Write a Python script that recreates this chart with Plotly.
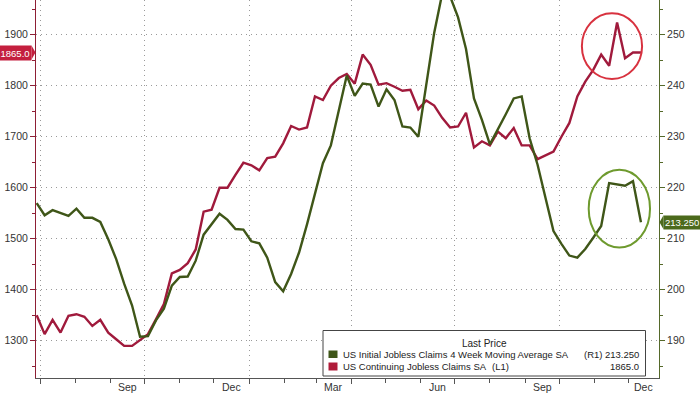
import pandas as pd
import plotly.graph_objects as go

# ---------------- data ----------------
first_week = "2022-06-28"
n_weeks = 77
dates = pd.date_range(first_week, periods=n_weeks, freq="7D")

initial_claims_4wk = [
    217.0, 214.6, 215.6, 215.0, 214.5, 215.9, 214.1, 214.1, 213.3, 209.9,
    206.0, 201.2, 196.9, 190.8, 190.9, 194.0, 196.3, 200.8, 202.5, 202.6,
    205.7, 210.8, 212.8, 214.9, 213.7, 211.9, 211.8, 209.5, 209.1, 206.3,
    201.5, 199.7, 203.1, 207.3, 212.8, 218.7, 224.8, 228.3, 235.2, 242.0,
    238.0, 240.4, 240.2, 235.9, 239.3, 237.2, 232.0, 231.8, 230.0, 240.1,
    250.4, 258.0, 257.5, 253.4, 247.2, 237.5, 233.3, 228.5, 231.3, 234.4,
    237.5, 237.9, 229.7, 224.5, 218.0, 211.5, 209.0, 206.7, 206.3, 208.0,
    210.2, 212.5, 220.9, 220.7, 220.4, 221.3, 213.25,
]
continuing_claims = [
    1350, 1313, 1341, 1316, 1349, 1352, 1347, 1329, 1341, 1316,
    1303, 1290, 1290, 1301, 1313, 1342, 1372, 1432, 1439, 1452,
    1479, 1553, 1557, 1600, 1600, 1625, 1649, 1644, 1634, 1658,
    1661, 1687, 1721, 1714, 1718, 1779, 1772, 1800, 1815, 1823,
    1804, 1861, 1841, 1802, 1805, 1798, 1790, 1792, 1754, 1771,
    1761, 1737, 1718, 1720, 1747, 1679, 1691, 1683, 1710, 1697,
    1717, 1683, 1683, 1656, 1664, 1671, 1700, 1727, 1779, 1808,
    1831, 1861, 1839, 1924, 1854, 1865, 1865.0,
]
left_ticks = [1300, 1400, 1500, 1600, 1700, 1800, 1900]
right_ticks = [190, 200, 210, 220, 230, 240, 250]
month_labels = ["Sep", "Dec", "Mar", "Jun", "Sep", "Dec"]
label_months = ["2022-09", "2022-12", "2023-03", "2023-06", "2023-09", "2023-12"]

name_initial = "US Initial Jobless Claims 4 Week Moving Average SA"
name_cont = "US Continuing Jobless Claims SA"
last_initial = "213.250"
last_cont = "1865.0"

# ---------------- geometry / style ----------------
W, H = 700, 394
ML, MR, MT, MB = 36, 41, 0, 16
PW, PH = W - ML - MR, H - MT - MB

def px(x):
    return (x - ML) / PW

def py(y):
    return (H - MB - y) / PH

RED = "#a01a3c"
GREEN = "#3f5618"
RED_AX = "#8e1f35"
GREEN_AX = "#55692a"
TAG_RED = "#c41f3e"
TAG_GREEN = "#4c6a1c"
FONT = "Liberation Sans, Arial"
TXT = "#333333"

x_start = dates[0] - pd.Timedelta(days=0.6)
x_end = dates[-1] + pd.Timedelta(days=15.9)

fig = go.Figure()
fig.add_trace(go.Scatter(x=dates, y=initial_claims_4wk, mode="lines",
                         line=dict(color=GREEN, width=2.4), yaxis="y2",
                         name=name_initial, hoverinfo="skip"))
fig.add_trace(go.Scatter(x=dates, y=continuing_claims, mode="lines",
                         line=dict(color=RED, width=2.4), yaxis="y",
                         name=name_cont, hoverinfo="skip"))

month_starts = pd.date_range("2022-07-01", "2023-12-01", freq="MS")
quarter_starts = [d for d in month_starts if d.month in (1, 4, 7, 10) and d > x_start]

annotations = []
for lab, m in zip(month_labels, label_months):
    ms = pd.Timestamp(m + "-01")
    me = ms + pd.offsets.MonthBegin(1)
    a = max(ms, x_start)
    b = min(me, x_end)
    mid = a + (b - a) / 2
    annotations.append(dict(x=mid, xref="x", y=0, yref="paper", yanchor="top",
                            yshift=-1, text=lab, showarrow=False,
                            font=dict(family=FONT, size=10.5, color=TXT)))

# last value tags
annotations.append(dict(x=0, xref="paper", xanchor="right", xshift=-4,
                        y=continuing_claims[-1], yref="y", text=last_cont,
                        showarrow=False, bgcolor=TAG_RED, borderpad=1.5,
                        font=dict(family=FONT, size=9.5, color="white")))
annotations.append(dict(x=1, xref="paper", xanchor="left", xshift=4,
                        y=initial_claims_4wk[-1], yref="y2", text=last_initial,
                        showarrow=False, bgcolor=TAG_GREEN, borderpad=1,
                        font=dict(family=FONT, size=9.5, color="white")))

# legend box content
lf = dict(family=FONT, size=9.5, color="#222222")
annotations += [
    dict(x=px(484), y=py(343), xref="paper", yref="paper", text="Last Price",
         showarrow=False, xanchor="center", yanchor="middle",
         font=dict(family=FONT, size=10, color="#222222")),
    dict(x=px(340.5), y=py(354.5), xref="paper", yref="paper", text=name_initial,
         showarrow=False, xanchor="left", yanchor="middle", font=lf),
    dict(x=px(582), y=py(354.5), xref="paper", yref="paper", text="(R1)",
         showarrow=False, xanchor="left", yanchor="middle", font=lf),
    dict(x=px(641), y=py(354.5), xref="paper", yref="paper", text=last_initial,
         showarrow=False, xanchor="right", yanchor="middle", font=lf),
    dict(x=px(340.5), y=py(366.5), xref="paper", yref="paper", text=name_cont,
         showarrow=False, xanchor="left", yanchor="middle", font=lf),
    dict(x=px(490), y=py(366.5), xref="paper", yref="paper", text="(L1)",
         showarrow=False, xanchor="left", yanchor="middle", font=lf),
    dict(x=px(641), y=py(366.5), xref="paper", yref="paper", text=last_cont,
         showarrow=False, xanchor="right", yanchor="middle", font=lf),
]

shapes = [
    # legend box
    dict(type="rect", xref="paper", yref="paper", x0=px(323), x1=px(645.5),
         y0=py(376), y1=py(330.5), fillcolor="white",
         line=dict(color="#444444", width=1), layer="above"),
    dict(type="rect", xref="paper", yref="paper", x0=px(328.5), x1=px(337.5),
         y0=py(358), y1=py(350.5), fillcolor=GREEN, line=dict(width=0)),
    dict(type="rect", xref="paper", yref="paper", x0=px(328.5), x1=px(337.5),
         y0=py(370.5), y1=py(362.5), fillcolor="#b01c3a", line=dict(width=0)),
    # tag pointers
    dict(type="path", xref="paper", yref="y", xsizemode="pixel", ysizemode="pixel",
         xanchor=0, yanchor=continuing_claims[-1],
         path="M-4.5,-7 L-0.5,0 L-4.5,7 Z", fillcolor=TAG_RED,
         line=dict(width=0)),
    dict(type="path", xref="paper", yref="y2", xsizemode="pixel", ysizemode="pixel",
         xanchor=1, yanchor=initial_claims_4wk[-1],
         path="M4.5,-7 L0.5,0 L4.5,7 Z", fillcolor=TAG_GREEN,
         line=dict(width=0)),
    # highlight ellipses
    dict(type="circle", xref="x", yref="y",
         x0=pd.Timestamp("2023-10-21"), x1=pd.Timestamp("2023-12-13"),
         y0=1813, y1=1942, line=dict(color="#d8323f", width=2)),
    dict(type="circle", xref="x", yref="y2",
         x0=pd.Timestamp("2023-10-27"), x1=pd.Timestamp("2023-12-20"),
         y0=208.3, y1=223.5, line=dict(color="#6e9a2e", width=2)),
]

grid = dict(gridcolor="#9a9a9a", griddash="1px,4px", gridwidth=1)

fig.update_layout(
    width=W, height=H,
    margin=dict(l=ML, r=MR, t=MT, b=MB, pad=0),
    paper_bgcolor="white", plot_bgcolor="white",
    showlegend=False,
    font=dict(family=FONT, size=10.5, color=TXT),
    xaxis=dict(type="date", range=[x_start, x_end],
               tickmode="array", tickvals=quarter_starts, showticklabels=False,
               ticks="outside", ticklen=5, tickcolor="#555555",
               showline=True, linecolor="#555555", linewidth=1,
               showgrid=True, zeroline=False,
               minor=dict(tickmode="array", tickvals=list(month_starts),
                          ticks="outside", ticklen=4, tickcolor="#555555",
                          showgrid=False),
               **grid),
    yaxis=dict(range=[1227, 1968], side="left",
               tickmode="array", tickvals=left_ticks,
               ticks="outside", ticklen=5, tickcolor=RED_AX,
               showline=True, linecolor=RED_AX, linewidth=1,
               showgrid=True, zeroline=False,
               tickfont=dict(family=FONT, size=10.5, color=TXT),
               minor=dict(tickmode="array",
                          tickvals=[v + 50 for v in [1200] + left_ticks],
                          ticks="outside", ticklen=3, tickcolor=RED_AX,
                          showgrid=False),
               **grid),
    yaxis2=dict(range=[182.7, 256.8], side="right", overlaying="y",
                tickmode="array", tickvals=right_ticks,
                ticks="outside", ticklen=5, tickcolor=GREEN_AX,
                showline=True, linecolor=GREEN_AX, linewidth=1,
                showgrid=False, zeroline=False,
                tickfont=dict(family=FONT, size=10.5, color=TXT),
                minor=dict(tickmode="array",
                           tickvals=[v + 5 for v in [180] + right_ticks],
                           ticks="outside", ticklen=3, tickcolor=GREEN_AX,
                           showgrid=False)),
    annotations=annotations,
    shapes=shapes,
)

fig.write_html("out.html")
